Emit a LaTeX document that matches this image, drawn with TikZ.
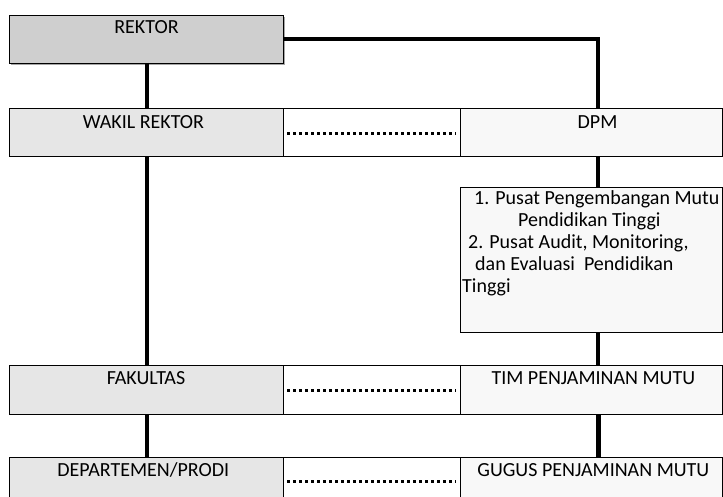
\documentclass[tikz,border=0pt]{standalone}
\usepackage{fontspec}
\setmainfont{Carlito}
\usetikzlibrary{shadows}
\definecolor{rekgray}{HTML}{CFCFCF}
\definecolor{lgray}{HTML}{E6E6E6}
\definecolor{rwhite}{HTML}{F8F8F8}
\begin{document}
\begin{tikzpicture}[x=1pt,y=-1pt,
  box/.style={draw=black, line width=0.8pt, inner sep=0pt, outer sep=0pt, rectangle},
  lbox/.style={box, fill=lgray, minimum width=274pt, minimum height=48.5pt},
  mbox/.style={box, fill=white, minimum width=177pt, minimum height=48.5pt},
  rbox/.style={box, fill=rwhite, minimum width=262pt, minimum height=48.5pt},
  lbl/.style={anchor=base, inner sep=0pt, font=\fontsize{20}{24}\selectfont},
  plbl/.style={anchor=base west, inner sep=0pt, font=\fontsize{20}{24}\selectfont},
  conn/.style={line width=4pt},
  dots/.style={line width=3pt, dash pattern=on 3pt off 3pt}]
\useasboundingbox (0,0) rectangle (723,497);
\clip (0,0) rectangle (723,497);
% row 1
\node[lbox, fill=rekgray, minimum height=48pt,
  drop shadow={shadow xshift=2pt, shadow yshift=-2pt, fill=gray!70, opacity=1}] (rektor) at (146,39) {};
\node[lbl] (trektor) at (146.5,33.3) {REKTOR};
% row 2
\node[lbox] (wakil) at (146,132.5) {};
\node[mbox] (mid2) at (371.5,132.5) {};
\node[rbox] (dpm) at (591,132.5) {};
\node[lbl] (twakil) at (143.5,128.3) {WAKIL REKTOR};
\node[lbl] (tdpm) at (597.5,128.3) {DPM};
% pusat box
\node[box, fill=rwhite, minimum width=262pt, minimum height=145pt] (pusat) at (591,259.5) {};
\node[plbl] (p1) at (474,205) {1. Pusat Pengembangan Mutu};
\node[plbl] (p2) at (518,227) {Pendidikan Tinggi};
\node[plbl] (p3) at (468,248.5) {2. Pusat Audit, Monitoring,};
\node[plbl] (p4) at (475,270) {dan Evaluasi\ \ Pendidikan};
\node[plbl] (p5) at (462,292) {Tinggi};
% row 3
\node[lbox] (fak) at (146,390) {};
\node[mbox] (mid3) at (371.5,390) {};
\node[rbox] (tim) at (591,390) {};
\node[lbl] (tfak) at (146,384.3) {FAKULTAS};
\node[lbl] (ttim) at (593.3,384) {TIM PENJAMINAN MUTU};
% row 4
\node[lbox] (dep) at (146,481.5) {};
\node[mbox] (mid4) at (371.5,481.5) {};
\node[rbox] (gugus) at (591,481.5) {};
\node[lbl] (tdep) at (143.3,476.7) {DEPARTEMEN/PRODI};
\node[lbl] (tgugus) at (593.3,476.7) {GUGUS PENJAMINAN MUTU};
% connectors
\draw[conn] ([xshift=1pt]rektor.south) -- ([xshift=1pt]wakil.north);
\draw[conn] ([xshift=1pt]wakil.south) -- ([xshift=1pt]fak.north);
\draw[conn] ([xshift=1pt]fak.south) -- ([xshift=1pt]dep.north);
\draw[conn] (rektor.east) -| ([xshift=7pt]dpm.north);
\draw[conn] ([xshift=7pt]dpm.south) -- ([xshift=7pt]pusat.north);
\draw[conn] ([xshift=7pt]pusat.south) -- ([xshift=7pt]tim.north);
\draw[line width=5.5pt] ([xshift=7.5pt]tim.south) -- ([xshift=7.5pt]gugus.north);
\draw[dots] ([xshift=4pt,yshift=-0.8pt]mid2.west) -- ([xshift=-4pt,yshift=-0.8pt]mid2.east);
\draw[dots] ([xshift=4pt]mid3.west) -- ([xshift=-4pt]mid3.east);
\draw[dots] ([xshift=4pt]mid4.west) -- ([xshift=-4pt]mid4.east);
\end{tikzpicture}
\end{document}
